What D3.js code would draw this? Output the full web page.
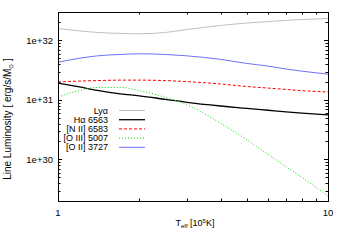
<!DOCTYPE html>
<html>
<head>
<meta charset="utf-8">
<script src="https://cdn.jsdelivr.net/npm/d3@7"></script>
<style>
  body { margin: 0; background: #fff; }
  svg { display: block; font-family: "Liberation Sans", Arial, sans-serif; }
</style>
</head>
<body>
<div id="chart"></div>
<script>
const temps = [1, 1.2, 1.4, 1.7, 2, 2.5, 3, 4, 5, 6, 7, 8, 10];
const lyaVals = [1.58e32, 1.44e32, 1.36e32, 1.31e32, 1.29e32, 1.36e32, 1.52e32, 1.78e32, 1.96e32, 2.07e32, 2.17e32, 2.24e32, 2.33e32];
const haVals = [1.92e31, 1.65e31, 1.44e31, 1.26e31, 1.17e31, 1.02e31, 9.1e30, 7.9e30, 7.2e30, 6.7e30, 6.3e30, 6.0e30, 5.6e30];
const n2Vals = [2.0e31, 2.07e31, 2.11e31, 2.15e31, 2.15e31, 2.11e31, 2.03e31, 1.85e31, 1.68e31, 1.58e31, 1.50e31, 1.43e31, 1.36e31];
const o3Vals = [1.12e31, 1.44e31, 1.62e31, 1.62e31, 1.44e31, 1.1e31, 8.3e30, 4.05e30, 2.15e30, 1.21e30, 7.5e29, 5.0e29, 2.42e29];
const o2Vals = [4.3e31, 5.0e31, 5.5e31, 5.8e31, 5.96e31, 5.8e31, 5.5e31, 4.8e31, 4.1e31, 3.7e31, 3.3e31, 3.04e31, 2.7e31];

const seriesNames = ["Ly\u03b1", "H\u03b1 6563", "[N II] 6583", "[O III] 5007", "[O II] 3727"];
const yTickLabels = ["1e+30", "1e+31", "1e+32"];
const xTickLabels = ["1", "10"];

const width = 346, height = 242;
const margin = { top: 12, right: 18, bottom: 41, left: 58 };
const w = width - margin.left - margin.right;
const h = height - margin.top - margin.bottom;

const series = [
  { name: seriesNames[0], vals: lyaVals, color: "#c0c0c0", dash: null, sw: 1 },
  { name: seriesNames[1], vals: haVals, color: "#000000", dash: null, sw: 1.3 },
  { name: seriesNames[2], vals: n2Vals, color: "#ff0000", dash: "3,2", sw: 1 },
  { name: seriesNames[3], vals: o3Vals, color: "#00e000", dash: "1,2", sw: 1 },
  { name: seriesNames[4], vals: o2Vals, color: "#7070ff", dash: null, sw: 1 }
];

const svg = d3.select("#chart").append("svg")
  .attr("width", width)
  .attr("height", height);

const g = svg.append("g")
  .attr("transform", `translate(${margin.left},${margin.top})`);

const x = d3.scaleLog().domain([1, 10]).range([0, w]);
const y = d3.scaleLog().domain([2e29, 3e32]).range([h, 0]);

// minor ticks
const xMinor = d3.range(1, 11);
const yMinor = [];
[1e29, 1e30, 1e31, 1e32].forEach(dec => {
  for (let k = 1; k <= 9; k++) {
    const v = k * dec;
    if (v >= 2e29 && v <= 3e32) yMinor.push(v);
  }
});
const yMajor = [1e30, 1e31, 1e32];

const ticks = g.append("g").attr("stroke", "#000").attr("stroke-width", 1);
xMinor.forEach(v => {
  const len = (v === 1 || v === 10) ? 4 : 2.5;
  const px = Math.round(x(v)) + 0.5;
  ticks.append("line").attr("x1", px).attr("x2", px).attr("y1", h).attr("y2", h - len);
  ticks.append("line").attr("x1", px).attr("x2", px).attr("y1", 0).attr("y2", len);
});
yMinor.forEach(v => {
  const len = yMajor.includes(v) ? 4 : 2.5;
  const py = Math.round(y(v)) + 0.5;
  ticks.append("line").attr("x1", 0).attr("x2", len).attr("y1", py).attr("y2", py);
  ticks.append("line").attr("x1", w).attr("x2", w - len).attr("y1", py).attr("y2", py);
});

// tick labels
g.selectAll(".ylab")
  .data(yMajor)
  .enter().append("text")
  .attr("x", -5)
  .attr("y", d => y(d))
  .attr("dy", "0.35em")
  .attr("text-anchor", "end")
  .attr("font-size", "9.5px")
  .text((d, i) => yTickLabels[i]);

g.selectAll(".xlab")
  .data([1, 10])
  .enter().append("text")
  .attr("x", d => x(d))
  .attr("y", h + 15)
  .attr("text-anchor", "middle")
  .attr("font-size", "9.5px")
  .text((d, i) => xTickLabels[i]);

// lines
const line = d3.line()
  .x(d => x(d[0]))
  .y(d => y(d[1]))
  .curve(d3.curveMonotoneX);

series.forEach(s => {
  g.append("path")
    .datum(temps.map((t, i) => [t, s.vals[i]]))
    .attr("fill", "none")
    .attr("stroke", s.color)
    .attr("stroke-width", s.sw)
    .attr("stroke-dasharray", s.dash)
    .attr("d", line);
});

// frame
g.append("rect")
  .attr("x", 0.5).attr("y", 0.5)
  .attr("width", w).attr("height", h)
  .attr("fill", "none")
  .attr("stroke", "#000")
  .attr("stroke-width", 1);

// legend
const leg = g.append("g").attr("transform", `translate(${108 - margin.left},${110.5 - margin.top})`);
series.forEach((s, i) => {
  const yy = i * 9.2;
  leg.append("text")
    .attr("x", 0)
    .attr("y", yy)
    .attr("dy", "0.35em")
    .attr("text-anchor", "end")
    .attr("font-size", "9px")
    .text(s.name);
  leg.append("line")
    .attr("x1", 11).attr("x2", 37)
    .attr("y1", yy).attr("y2", yy)
    .attr("stroke", s.color)
    .attr("stroke-width", s.sw)
    .attr("stroke-dasharray", s.dash);
});

// axis titles
const xt = svg.append("text")
  .attr("x", 195)
  .attr("y", 226)
  .attr("text-anchor", "middle")
  .attr("font-size", "9px");
xt.append("tspan").text("T");
xt.append("tspan").attr("font-size", "6px").attr("dy", 2).text("eff");
xt.append("tspan").attr("dy", -2).text(" [10");
xt.append("tspan").attr("font-size", "6px").attr("dy", -3).text("5");
xt.append("tspan").attr("dy", 3).text("K]");

const yt = svg.append("text")
  .attr("transform", "translate(11,119) rotate(-90)")
  .attr("text-anchor", "middle")
  .attr("font-size", "10px");
yt.append("tspan").text("Line Luminosity [ erg/s/M");
yt.append("tspan").attr("font-size", "6px").attr("dy", 2).text("\u2299");
yt.append("tspan").attr("dy", -2).text(" ]");
</script>
</body>
</html>
